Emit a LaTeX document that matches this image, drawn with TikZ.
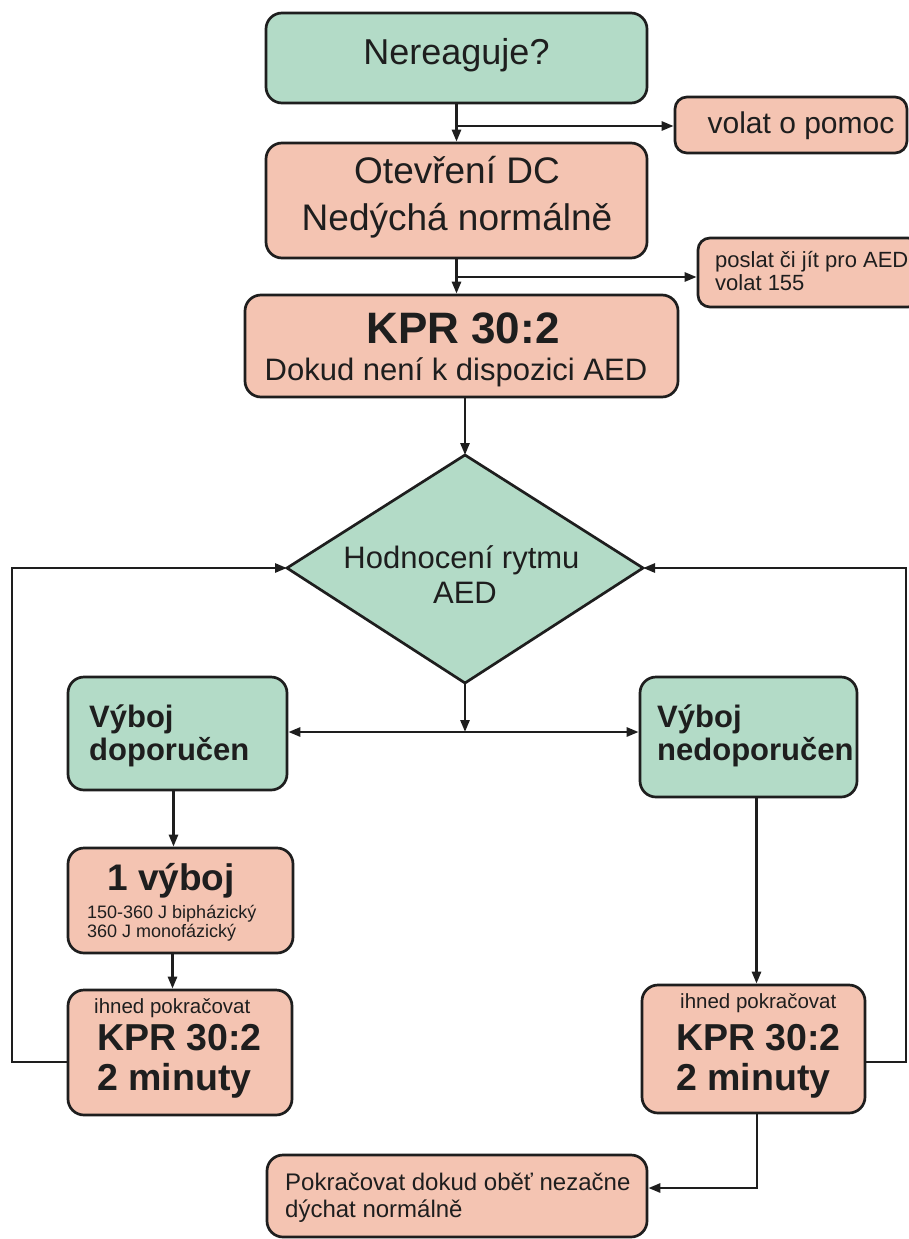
\documentclass[tikz,border=0pt]{standalone}
\usepackage{fontspec}
\setmainfont{Liberation Sans}
\usetikzlibrary{arrows.meta}
\definecolor{mint}{RGB}{179,219,199}
\definecolor{salmon}{RGB}{244,196,178}
\definecolor{ink}{RGB}{30,30,30}
\newcommand\fsz[1]{\fontsize{#1}{#1}\selectfont}
\tikzset{
  box/.style={draw=ink, line width=2.7pt, rounded corners=16pt, inner sep=0pt},
  gbox/.style={box, fill=mint},
  pbox/.style={box, fill=salmon},
  conn/.style={draw=ink, line width=2.6pt, -{Triangle[length=12pt,width=9pt]}},
  txt/.style={anchor=base, inner sep=0pt, text=ink},
  ltxt/.style={anchor=base west, inner sep=0pt, text=ink},
}
\begin{document}
\begin{tikzpicture}[x=1pt,y=-1pt]
\useasboundingbox[fill=white] (0,0) rectangle (908,1239);

% boxes
\node[gbox, minimum width=381pt, minimum height=90pt] (n1) at (456.5,58) {};
\node[pbox, rounded corners=12pt, minimum width=232pt, minimum height=56pt] (n2) at (791,125) {};
\node[pbox, minimum width=381pt, minimum height=115pt] (n3) at (456.5,200.5) {};
\node[pbox, rounded corners=12pt, minimum width=222pt, minimum height=69pt] (n4) at (809,272.5) {};
\node[pbox, minimum width=433pt, minimum height=102pt] (n5) at (461.5,346) {};
\coordinate (Dt) at (465,455);
\coordinate (Db) at (465,683);
\coordinate (Dl) at (287,568);
\coordinate (Dr) at (643,568);
\filldraw[fill=mint, draw=ink, line width=2.7pt, line join=miter] (Dt) -- (Dr) -- (Db) -- (Dl) -- cycle;
\node[gbox, minimum width=219pt, minimum height=113pt] (n6) at (177.5,733.5) {};
\node[gbox, minimum width=217pt, minimum height=120pt] (n7) at (748.5,737) {};
\node[pbox, minimum width=225pt, minimum height=105pt] (n8) at (180.5,900.5) {};
\node[pbox, minimum width=224pt, minimum height=125pt] (n9) at (180,1052.5) {};
\node[pbox, minimum width=223pt, minimum height=128pt] (n10) at (753.5,1049) {};
\node[pbox, minimum width=380pt, minimum height=82pt] (n11) at (457,1196) {};

% texts
\node[txt, font=\fsz{36}] (t1) at (456.5,64) {Nereaguje?};
\node[txt, font=\fsz{30}] (t2) at (801,133) {volat o pomoc};
\node[txt, font=\fsz{37}] (t3a) at (457,183) {Otevření DC};
\node[txt, font=\fsz{37}] (t3b) at (457,230) {Nedýchá normálně};
\node[ltxt, font=\fsz{22}] (t4a) at (715,267) {poslat či jít pro AED};
\node[ltxt, font=\fsz{22}] (t4b) at (715,290) {volat 155};
\node[txt, font=\fsz{44}\bfseries] (t5a) at (463,343) {KPR 30:2};
\node[txt, font=\fsz{31}] (t5b) at (456,380) {Dokud není k dispozici AED};
\node[txt, font=\fsz{31}] (tda) at (461.5,568) {Hodnocení rytmu};
\node[txt, font=\fsz{31}] (tdb) at (465,603) {AED};
\node[ltxt, font=\fsz{31}\bfseries] (t6a) at (89,727) {Výboj};
\node[ltxt, font=\fsz{31}\bfseries] (t6b) at (89,760) {doporučen};
\node[ltxt, font=\fsz{31}\bfseries] (t7a) at (657,727) {Výboj};
\node[ltxt, font=\fsz{31}\bfseries] (t7b) at (657,760) {nedoporučen};
\node[ltxt, font=\fsz{37}\bfseries] (t8a) at (107,890) {1 výboj};
\node[ltxt, font=\fsz{18}] (t8b) at (87,918) {150-360 J bipházický};
\node[ltxt, font=\fsz{18}] (t8c) at (87,937) {360 J monofázický};
\node[ltxt, font=\fsz{20.5}] (t9a) at (94,1013) {ihned pokračovat};
\node[ltxt, font=\fsz{37.5}\bfseries] (t9b) at (97,1050) {KPR 30:2};
\node[ltxt, font=\fsz{37.5}\bfseries] (t9c) at (97,1090) {2 minuty};
\node[ltxt, font=\fsz{20.5}] (t10a) at (680,1008) {ihned pokračovat};
\node[ltxt, font=\fsz{37.5}\bfseries] (t10b) at (676,1050) {KPR 30:2};
\node[ltxt, font=\fsz{37.5}\bfseries] (t10c) at (676,1090) {2 minuty};
\node[ltxt, font=\fsz{24}] (t11a) at (285,1190) {Pokračovat dokud oběť nezačne};
\node[ltxt, font=\fsz{24}] (t11b) at (285,1217) {dýchat normálně};

% connectors
\draw[conn] (n1.south) -- (n3.north);
\coordinate (b1) at (456.5,126);
\draw[conn] (b1) -- (b1 -| n2.west);
\draw[conn] (n3.south) -- (n3.south |- n5.north);
\coordinate (b2) at (456.5,277);
\draw[conn] (b2) -- (b2 -| n4.west);
\draw[conn] (Dt |- n5.south) -- (Dt);
\coordinate (hj) at (465,732);
\draw[conn] (Db) -- (hj);
\draw[conn] (hj) -- (hj -| n6.east);
\draw[conn] (hj) -- (hj -| n7.west);
\draw[conn] ([xshift=-4pt]n6.south) -- ([xshift=-4pt]n6.south |- n8.north);
\draw[conn] ([xshift=-8pt]n8.south) -- ([xshift=-8pt]n8.south |- n9.north);
\coordinate (L1) at (12,1062);
\coordinate (L2) at (12,568);
\draw[conn] (n9.west |- L1) -- (L1) -- (L2) -- (Dl);
\draw[conn] ([xshift=8pt]n7.south) -- ([xshift=8pt]n7.south |- n10.north);
\coordinate (R1) at (906,1062);
\coordinate (R2) at (906,568);
\draw[conn] (n10.east |- R1) -- (R1) -- (R2) -- (Dr);
\coordinate (B1) at (757,1188);
\draw[conn] (n10.south -| B1) -- (B1) -- (B1 -| n11.east);
\end{tikzpicture}
\end{document}
